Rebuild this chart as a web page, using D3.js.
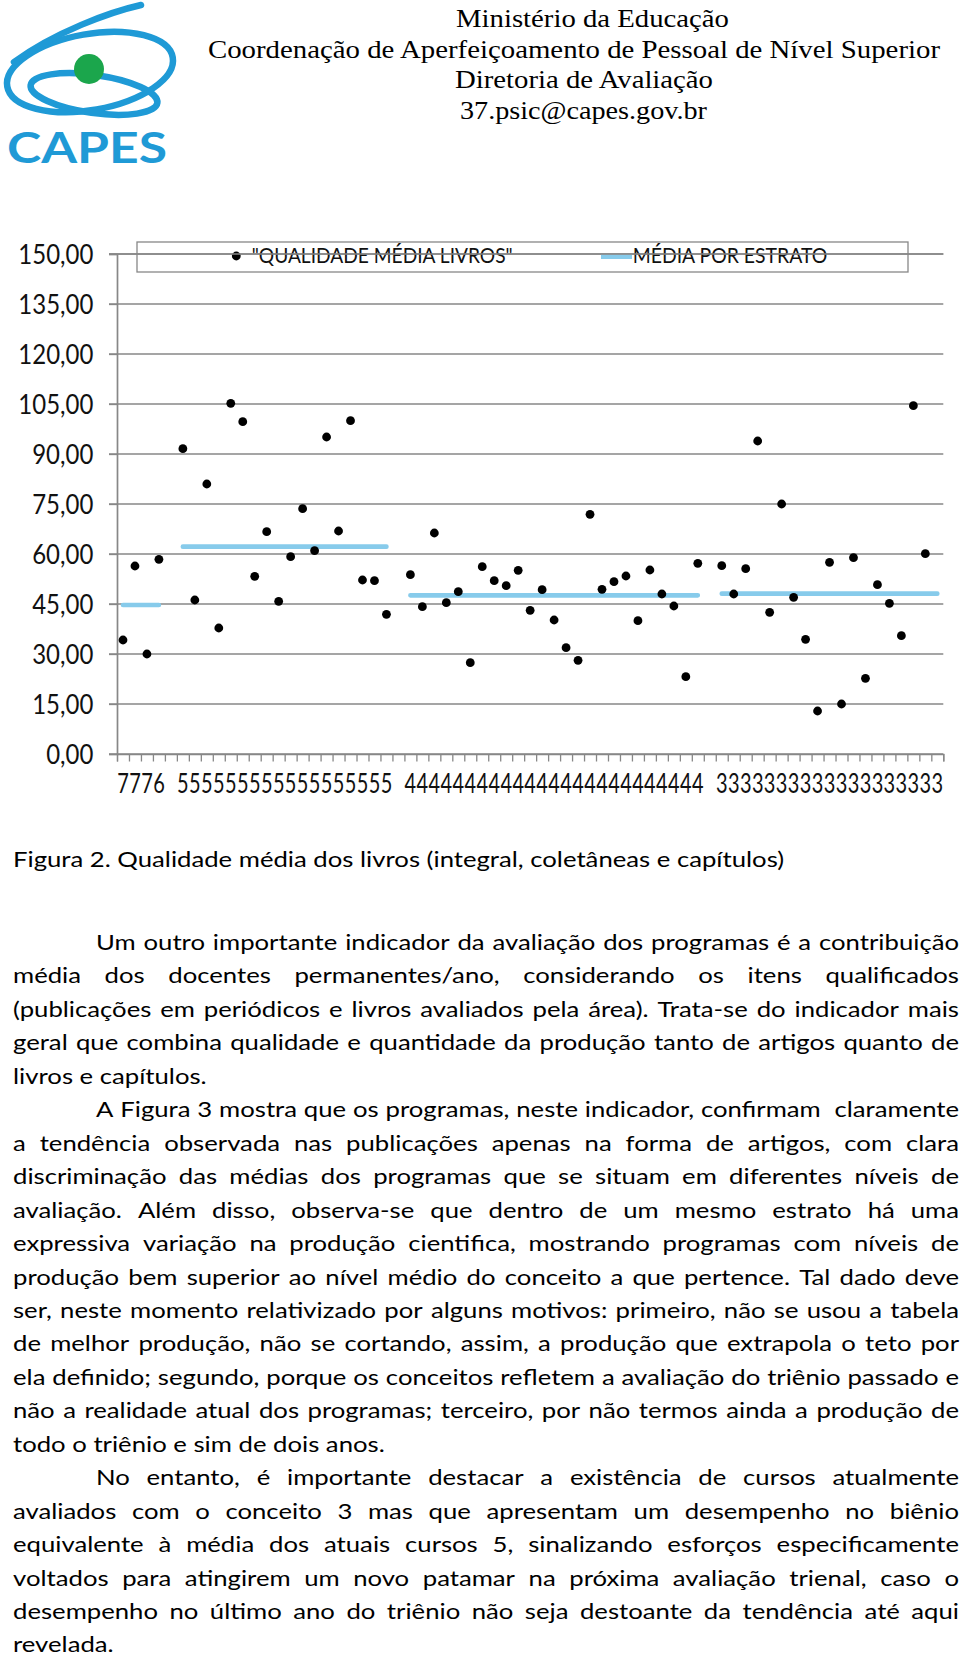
<!DOCTYPE html>
<html><head><meta charset="utf-8">
<script src="https://cdn.jsdelivr.net/npm/d3@7"></script>
<style>
html,body{margin:0;padding:0;background:#fff;}
svg{display:block;}
</style></head><body>
<script>
// ---------------- DATA ----------------
const categoryLabels = [
  "7","7","7","6","",
  "5","5","5","5","5","5","5","5","5","5","5","5","5","5","5","5","5","5","",
  "4","4","4","4","4","4","4","4","4","4","4","4","4","4","4","4","4","4","4","4","4","4","4","4","4","",
  "3","3","3","3","3","3","3","3","3","3","3","3","3","3","3","3","3","3","3"
];
const qualityValues = [
  34.2, 56.4, 30.0, 58.4, null,
  91.6, 46.2, 81.0, 37.8, 105.2, 99.7, 53.3, 66.7, 45.8, 59.2, 73.6, 61.0, 95.1, 66.9, 100.0, 52.2, 52.0, 41.9, null,
  53.8, 44.2, 66.3, 45.4, 48.7, 27.4, 56.2, 52.0, 50.5, 55.1, 43.1, 49.3, 40.2, 31.9, 28.1, 71.9, 49.4, 51.7, 53.4, 40.0, 55.2, 48.0, 44.4, 23.2, 57.2, null,
  56.5, 48.0, 55.6, 93.9, 42.5, 75.0, 47.0, 34.4, 12.9, 57.5, 15.0, 58.9, 22.7, 50.8, 45.2, 35.5, 104.5, 60.1, null
];
const stratumMeans = [44.7, 62.2, 47.6, 48.1];
const yTicks = [0, 15, 30, 45, 60, 75, 90, 105, 120, 135, 150];
const legendLabels = ["\"QUALIDADE MÉDIA LIVROS\"", "MÉDIA POR ESTRATO"];

const headerLines = [
  "Ministério da Educação",
  "Coordenação de Aperfeiçoamento de Pessoal de Nível Superior",
  "Diretoria de Avaliação",
  "37.psic@capes.gov.br"
];
const caption = "Figura 2. Qualidade média dos livros (integral, coletâneas e capítulos)";
const paragraphs = [
  ["Um outro importante indicador da avaliação dos programas é a contribuição",
   "média dos docentes permanentes/ano, considerando os itens qualificados",
   "(publicações em periódicos e livros avaliados pela área). Trata-se do indicador mais",
   "geral que combina qualidade e quantidade da produção tanto de artigos quanto de",
   "livros e capítulos."],
  ["A Figura 3 mostra que os programas, neste indicador, confirmam  claramente",
   "a tendência observada nas publicações apenas na forma de artigos, com clara",
   "discriminação das médias dos programas que se situam em diferentes níveis de",
   "avaliação. Além disso, observa-se que dentro de um mesmo estrato há uma",
   "expressiva variação na produção cientifica, mostrando programas com níveis de",
   "produção bem superior ao nível médio do conceito a que pertence. Tal dado deve",
   "ser, neste momento relativizado por alguns motivos: primeiro, não se usou a tabela",
   "de melhor produção, não se cortando, assim, a produção que extrapola o teto por",
   "ela definido; segundo, porque os conceitos refletem a avaliação do triênio passado e",
   "não a realidade atual dos programas; terceiro, por não termos ainda a produção de",
   "todo o triênio e sim de dois anos."],
  ["No entanto, é importante destacar a existência de cursos atualmente",
   "avaliados com o conceito 3 mas que apresentam um desempenho no biênio",
   "equivalente à média dos atuais cursos 5, sinalizando esforços especificamente",
   "voltados para atingirem um novo patamar na próxima avaliação trienal, caso o",
   "desempenho no último ano do triênio não seja destoante da tendência até aqui",
   "revelada."]
];

// ---------------- SETUP ----------------
const W = 960, H = 1661;
const svg = d3.select("body").append("svg").attr("width", W).attr("height", H);
svg.append("rect").attr("width", W).attr("height", H).attr("fill", "#fff");

const BLUE_LOGO = "#1f9ad6", GREEN = "#1ba64c";
const MEAN_BLUE = "#87cbeb", GRID = "#878787";
const chartFont = "Lato, 'Open Sans', sans-serif";
const bodyFont = "Lato, Carlito, Calibri, sans-serif";
const serifFont = "'Liberation Serif', 'Times New Roman', serif";

function measure(str, font, size, weight) {
  const t = svg.append("text").attr("font-family", font).attr("font-size", size)
    .attr("font-weight", weight || 400).attr("x", -1000).attr("y", -1000).text(str);
  const w = t.node().getComputedTextLength();
  t.remove();
  return w;
}

// ---------------- LOGO ----------------
const logo = svg.append("g").attr("fill", "none").attr("stroke", BLUE_LOGO)
  .attr("stroke-width", 6.5).attr("stroke-linecap", "round");
logo.append("ellipse").attr("cx", 90).attr("cy", 72).attr("rx", 84).attr("ry", 38)
  .attr("transform", "rotate(-10 90 72)");
logo.append("ellipse").attr("cx", 94).attr("cy", 94).attr("rx", 64).attr("ry", 19)
  .attr("transform", "rotate(8 94 94)");
logo.append("path").attr("d", "M141,5 C110,12 55,32 14,62");
svg.append("circle").attr("cx", 89).attr("cy", 69).attr("r", 15).attr("fill", GREEN);
svg.append("text").attr("x", 7).attr("y", 163).attr("font-family", "Lato, 'DejaVu Sans', sans-serif")
  .attr("font-weight", 700).attr("font-size", 42).attr("fill", BLUE_LOGO)
  .attr("textLength", 160).attr("lengthAdjust", "spacingAndGlyphs").text("CAPES");

// ---------------- HEADER ----------------
const headerGeom = [[456, 729, 27], [208, 940, 57.5], [455, 713, 88], [460, 707, 118.5]];
svg.append("g").selectAll("text").data(headerLines).join("text")
  .attr("x", (d, i) => headerGeom[i][0]).attr("y", (d, i) => headerGeom[i][2])
  .attr("textLength", (d, i) => headerGeom[i][1] - headerGeom[i][0])
  .attr("lengthAdjust", "spacingAndGlyphs")
  .attr("font-family", serifFont).attr("font-size", 25).attr("fill", "#000")
  .text(d => d);

// ---------------- CHART ----------------
const N = categoryLabels.length;
const x = d3.scaleLinear().domain([0, N]).range([117, 943.3]);
const y = d3.scaleLinear().domain([0, 150]).range([754, 254]);
const cx = i => x(i + 0.5);

const chart = svg.append("g");

// legend box
chart.append("rect").attr("x", 137).attr("y", 242).attr("width", 771).attr("height", 30)
  .attr("fill", "none").attr("stroke", GRID).attr("stroke-width", 1.3);

// gridlines
chart.append("g").selectAll("line").data(yTicks).join("line")
  .attr("x1", 109).attr("x2", x(N)).attr("y1", d => y(d)).attr("y2", d => y(d))
  .attr("stroke", GRID).attr("stroke-width", 1.3);

// y axis line
const yAxis = d3.axisLeft(y).tickValues(yTicks).tickSize(8).tickFormat("");
const gy = chart.append("g").attr("transform", `translate(${x(0)},0)`).call(yAxis);
gy.select(".domain").attr("stroke", GRID).attr("stroke-width", 1.7);
gy.selectAll(".tick line").attr("stroke", GRID).attr("stroke-width", 1.3);

// x axis ticks (category boundaries)
const xAxis = d3.axisBottom(x).tickValues(d3.range(0, N + 1)).tickSize(7.5).tickFormat("");
const gx = chart.append("g").attr("transform", `translate(0,${y(0)})`).call(xAxis);
gx.select(".domain").attr("stroke", GRID).attr("stroke-width", 1.3);
gx.selectAll(".tick line").attr("stroke", GRID).attr("stroke-width", 1.3);

// y labels
const ySize = 26.8;
const sxY = 75 / measure("150,00", chartFont, ySize);
const fmt = v => d3.format(".2f")(v).replace(".", ",");
chart.append("g").selectAll("text").data(yTicks).join("text")
  .attr("transform", d => `translate(93.3,${y(d) + 9.6}) scale(${sxY},1)`)
  .attr("text-anchor", "end").attr("font-family", chartFont).attr("font-size", ySize)
  .attr("fill", "#111").text(fmt);

// x labels
const sxX = 11.6 / measure("5", chartFont, ySize);
chart.append("g").selectAll("text")
  .data(categoryLabels.map((l, i) => ({ l, i })).filter(d => d.l !== ""))
  .join("text")
  .attr("transform", d => `translate(${cx(d.i)},793) scale(${sxX},1)`)
  .attr("text-anchor", "middle").attr("font-family", chartFont).attr("font-size", ySize)
  .attr("fill", "#111").text(d => d.l);

// stratum mean series (constant per run of labelled categories)
const meanSeries = [];
let grp = -1;
categoryLabels.forEach((l, i) => {
  if (l === "") { meanSeries.push(null); return; }
  if (i === 0 || categoryLabels[i - 1] === "") grp++;
  meanSeries.push(stratumMeans[grp]);
});
const line = d3.line().defined(d => d != null).x((d, i) => cx(i)).y(d => y(d));
chart.append("path").datum(meanSeries).attr("d", line)
  .attr("fill", "none").attr("stroke", MEAN_BLUE).attr("stroke-width", 4.6)
  .attr("stroke-linecap", "round");

// points
chart.append("g").selectAll("circle")
  .data(qualityValues.map((v, i) => ({ v, i })).filter(d => d.v != null))
  .join("circle").attr("cx", d => cx(d.i)).attr("cy", d => y(d.v)).attr("r", 4.4)
  .attr("fill", "#000");

// legend items
chart.append("circle").attr("cx", 236.3).attr("cy", 256).attr("r", 4.4).attr("fill", "#000");
chart.append("text").attr("x", 251.7).attr("y", 263).attr("textLength", 261)
  .attr("lengthAdjust", "spacingAndGlyphs").attr("font-family", chartFont)
  .attr("font-size", 21).attr("fill", "#111").text(legendLabels[0]);
chart.append("line").attr("x1", 601).attr("x2", 632).attr("y1", 256.7).attr("y2", 256.7)
  .attr("stroke", MEAN_BLUE).attr("stroke-width", 4.6);
chart.append("text").attr("x", 632.7).attr("y", 262.5).attr("textLength", 194.6)
  .attr("lengthAdjust", "spacingAndGlyphs").attr("font-family", chartFont)
  .attr("font-size", 21).attr("fill", "#111").text(legendLabels[1]);
// top gridline crosses the legend box
chart.append("line").attr("x1", 109).attr("x2", x(N)).attr("y1", y(150)).attr("y2", y(150))
  .attr("stroke", GRID).attr("stroke-width", 1.3);

// ---------------- BODY TEXT ----------------
const bodySize = 20.5;
const textG = svg.append("g").attr("font-family", bodyFont).attr("font-size", bodySize).attr("fill", "#000");
const captionTarget = 771;
const kBody = captionTarget / measure(caption, bodyFont, bodySize);
const spaceW = (measure("a a", bodyFont, bodySize) - measure("aa", bodyFont, bodySize)) * kBody;

function layoutLine(str, x0, x1, yb, justify) {
  const words = str.split(" ");
  const nat = words.map(w => w === "" ? 0 : measure(w, bodyFont, bodySize) * kBody);
  let widths = nat.slice();
  let sum = d3.sum(widths);
  const avail = x1 - x0;
  let gap = spaceW;
  if (justify && words.length > 1) {
    const minNeeded = sum + spaceW * 0.6 * (words.length - 1);
    if (minNeeded > avail) {
      const f = (avail - spaceW * 0.6 * (words.length - 1)) / sum;
      widths = widths.map(w => w * f);
      sum = d3.sum(widths);
    }
    gap = (avail - sum) / (words.length - 1);
  }
  let xx = x0;
  words.forEach((w, i) => {
    if (w !== "") {
      textG.append("text").attr("x", xx).attr("y", yb)
        .attr("textLength", widths[i]).attr("lengthAdjust", "spacingAndGlyphs").text(w);
    }
    xx += widths[i] + gap;
  });
}

layoutLine(caption, 13, 959, 867, false);
const left = 13, right = 959, indent = 96;
const base0 = 950, step = 33.45;
let li = 0;
paragraphs.forEach(par => {
  par.forEach((ln, j) => {
    const isLast = j === par.length - 1;
    layoutLine(ln, j === 0 ? indent : left, right, base0 + step * li, !isLast);
    li++;
  });
});
</script>
</body></html>
